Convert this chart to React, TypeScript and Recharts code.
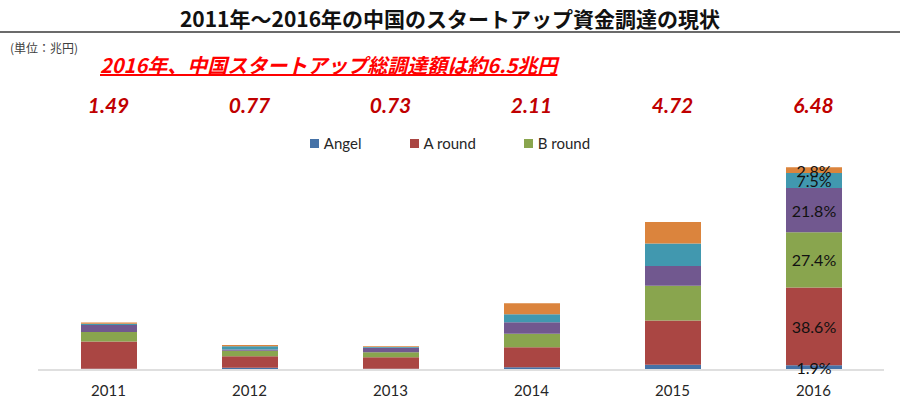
import { Bar, BarChart, LabelList, Legend, XAxis, YAxis } from "recharts";

const years = ["2011", "2012", "2013", "2014", "2015", "2016"];
const totals = [1.49, 0.77, 0.73, 2.11, 4.72, 6.48];
const angel = [0.01, 0.04, 0.01, 0.06, 0.14, 0.12];
const aRound = [0.87, 0.37, 0.37, 0.64, 1.42, 2.5];
const bRound = [0.31, 0.18, 0.16, 0.43, 1.11, 1.775];
const cRound = [0.22, 0.04, 0.14, 0.37, 0.64, 1.415];
const dRound = [0.04, 0.1, 0.03, 0.26, 0.72, 0.485];
const eRound = [0.04, 0.04, 0.02, 0.35, 0.69, 0.184];
const legendNames = ["Angel", "A round", "B round"];
const boundaryTicks = [0, 1, 2, 3, 4, 5, 6];

const data = years.map((year, i) => ({
  year,
  total: totals[i],
  angel: angel[i],
  aRound: aRound[i],
  bRound: bRound[i],
  cRound: cRound[i],
  dRound: dRound[i],
  eRound: eRound[i],
}));

const series = [
  { key: "angel", name: "Angel", color: "#4572A7", values: angel },
  { key: "aRound", name: "A round", color: "#AA4643", values: aRound },
  { key: "bRound", name: "B round", color: "#89A54E", values: bRound },
  { key: "cRound", name: "C round", color: "#71588F", values: cRound },
  { key: "dRound", name: "D round", color: "#4198AF", values: dRound },
  { key: "eRound", name: "E round", color: "#DB843D", values: eRound },
];

const LATIN = "Lato, 'Noto Sans', sans-serif";
const JP = "'Noto Sans CJK JP', 'Noto Sans', sans-serif";

// only the last year carries share labels
const shareLabel = (values: number[]) => (props: any) => {
  const { x, y, width, height, index } = props;
  if (index !== years.length - 1) return null;
  const pct = (values[index] / totals[index]) * 100;
  return (
    <text
      x={Number(x) + Number(width) / 2}
      y={Number(y) + Number(height) / 2}
      textAnchor="middle"
      dominantBaseline="central"
      fill="#111"
      fontSize={16}
      fontFamily={LATIN}
    >
      {pct.toFixed(1)}%
    </text>
  );
};

const renderLegend = (props: any) => {
  const payload = props.payload || [];
  const items = legendNames
    .map((name) => payload.find((p: any) => p.value === name))
    .filter(Boolean);
  return (
    <div style={{ display: "flex", justifyContent: "center", gap: 48, fontFamily: LATIN, fontSize: 15, color: "#262626" }}>
      {items.map((p: any) => (
        <span key={p.value} style={{ display: "flex", alignItems: "center" }}>
          <span style={{ width: 9, height: 9, background: p.color, marginRight: 5, display: "inline-block" }} />
          {p.value}
        </span>
      ))}
    </div>
  );
};

export default function App() {
  return (
    <div style={{ position: "absolute", left: 0, top: 0, width: 900, height: 410, background: "#fff" }}>
      <BarChart
        width={900}
        height={410}
        data={data}
        margin={{ top: 101, right: 16, bottom: 39, left: 38 }}
        barSize={56}
      >
        <XAxis
          dataKey="year"
          axisLine={false}
          tickLine={false}
          height={1}
          tickMargin={10}
          tick={{ fill: "#262626", fontSize: 15, fontFamily: LATIN }}
        />
        {/* boundary ticks between categories, like the spreadsheet axis */}
        <XAxis
          xAxisId="grid"
          type="number"
          domain={[0, years.length]}
          ticks={boundaryTicks}
          allowDataOverflow
          height={1}
          tick={false}
          tickSize={6}
          tickLine={{ stroke: "#BFBFBF" }}
          axisLine={{ stroke: "#BFBFBF" }}
        />
        <XAxis
          xAxisId="top"
          orientation="top"
          dataKey="total"
          height={50}
          axisLine={false}
          tickLine={false}
          tickSize={0}
          tickMargin={38}
          tickFormatter={(v: number) => v.toFixed(2)}
          tick={{ fill: "#C00000", fontSize: 21, fontWeight: 700, fontStyle: "italic", fontFamily: LATIN }}
        />
        <YAxis hide domain={[0, 7]} />
        <Legend
          verticalAlign="middle"
          align="center"
          content={renderLegend}
          wrapperStyle={{ top: 134, left: 0, width: 900 }}
        />
        {series.map((s, i) => (
          <Bar
            key={s.key}
            dataKey={s.key}
            name={s.name}
            stackId="total"
            fill={s.color}
            legendType={i < 3 ? "square" : "none"}
            isAnimationActive={false}
          >
            <LabelList dataKey={s.key} content={shareLabel(s.values)} />
          </Bar>
        ))}
      </BarChart>

      <div style={{ position: "absolute", top: 6, left: 0, width: 900, textAlign: "center", fontFamily: JP, fontSize: 21, fontWeight: 700, lineHeight: "24px", color: "#111" }}>
        2011年～2016年の中国のスタートアップ資金調達の現状
      </div>
      <div style={{ position: "absolute", top: 31, left: 0, width: 900, height: 2, background: "#6b6b6b" }} />
      <div style={{ position: "absolute", top: 41, left: 10, fontFamily: JP, fontSize: 12, lineHeight: "14px", color: "#404040" }}>
        (単位：兆円)
      </div>
      <div style={{ position: "absolute", top: 53, left: 100, fontFamily: JP, fontSize: 20, fontWeight: 700, fontStyle: "italic", lineHeight: "24px", color: "#FF0000", textDecoration: "underline" }}>
        2016年、中国スタートアップ総調達額は約6.5兆円
      </div>
    </div>
  );
}
